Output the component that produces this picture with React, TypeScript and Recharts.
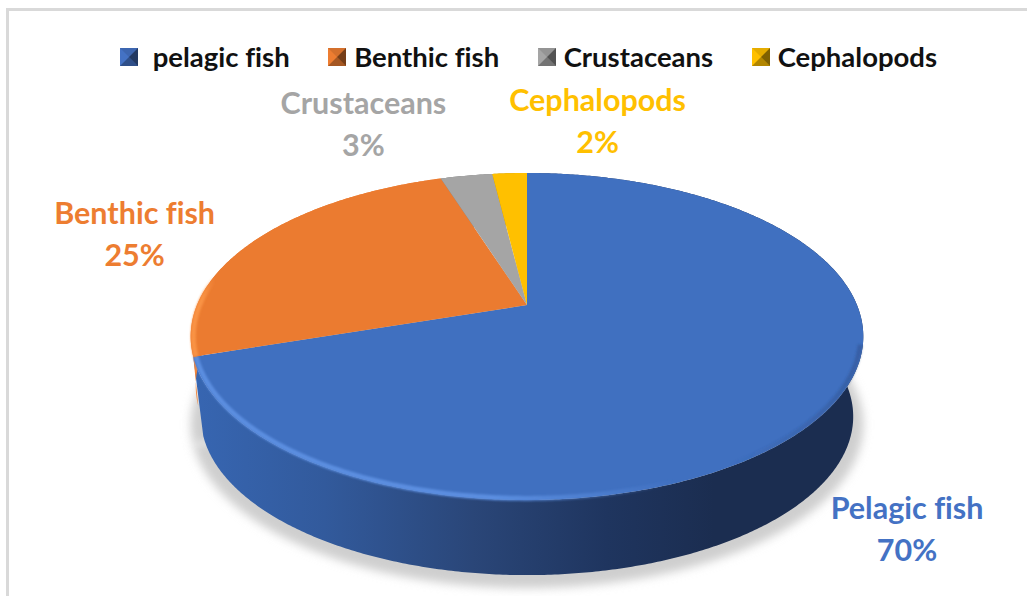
import React from "react";
import { Legend, Pie, PieChart } from "recharts";

// Chart content
const labelNames = ["Pelagic fish", "Benthic fish", "Crustaceans", "Cephalopods"];
const legendNames = [" pelagic fish", "Benthic fish", "Crustaceans", "Cephalopods"];
const shares = [70, 25, 3, 2];
const colors = ["#4472c4", "#ed7d31", "#a5a5a5", "#ffc000"];
const faceFills = ["#4070c0", "#eb7b30", "#a5a5a5", "#ffc000"];
const wallFills = ["url(#wallBlue)", "#f0843a", "#7c7c7c", "#bf9000"];
const wallDrops = [81, 50, 50, 50];
const rimStrokes = ["url(#rimBlue)", "url(#rimOrange)", "none", "none"];
// Distance of each data label from the rim point at the middle of its slice
const labelOffsets = [
  [79, 121],
  [-122, -4],
  [-103, -51],
  [88, -51],
];

const tableData = shares.map((value, i) => ({
  name: legendNames[i],
  value,
  fill: colors[i],
}));

// Tilted-disc projection used for every face of the pie
const TILT = 0.1926;
const SQUASH = 0.477;
const WALL_SCALE = 0.97;
const SHADOW_DROP = 88;
const RIM_FRONT_ANGLE = -14;

type Pt = [number, number];

function project(cx: number, cy: number, r: number, deg: number, scale = 1, drop = 0): Pt {
  const rad = (deg * Math.PI) / 180;
  const u = Math.cos(rad);
  const v = -Math.sin(rad);
  const w = 1 - TILT * v;
  return [cx + (scale * r * u) / w, cy + drop + (scale * r * SQUASH * v) / w];
}

function arc(cx: number, cy: number, r: number, a0: number, a1: number, scale = 1, drop = 0): Pt[] {
  const steps = Math.max(2, Math.ceil(Math.abs(a1 - a0) * 2));
  const out: Pt[] = [];
  for (let i = 0; i <= steps; i++) {
    out.push(project(cx, cy, r, a0 + ((a1 - a0) * i) / steps, scale, drop));
  }
  return out;
}

const toPath = (pts: Pt[], close = true) =>
  pts.map((p, i) => `${i ? "L" : "M"}${p[0].toFixed(2)},${p[1].toFixed(2)}`).join("") + (close ? "Z" : "");

function ShadowSlice(props: any) {
  const { cx, cy, outerRadius, startAngle, endAngle } = props;
  const pts = arc(cx, cy, outerRadius, startAngle, endAngle, 1, SHADOW_DROP);
  const hub = project(cx, cy, outerRadius, 0, 0, SHADOW_DROP);
  return <path d={toPath([hub, ...pts])} fill="#cfcfcf" filter="url(#softShadow)" />;
}

function WallSlice(props: any) {
  const { cx, cy, outerRadius, startAngle, endAngle, index } = props;
  const drop = wallDrops[index];
  const scale = index === 0 ? WALL_SCALE : 0.985;
  const upper = arc(cx, cy, outerRadius, startAngle, endAngle);
  const lower = arc(cx, cy, outerRadius, endAngle, startAngle, scale, drop);
  return <path d={toPath([...upper, ...lower])} fill={wallFills[index]} />;
}

function TopSlice(props: any) {
  const { cx, cy, outerRadius, startAngle, endAngle, index } = props;
  const edge = arc(cx, cy, outerRadius, startAngle, endAngle);
  const rim = arc(cx, cy, outerRadius, Math.min(startAngle, RIM_FRONT_ANGLE), endAngle, 0.992);
  return (
    <g>
      <path d={toPath([[cx, cy], ...edge])} fill={faceFills[index]} />
      {rimStrokes[index] !== "none" && (
        <path
          d={toPath(rim, false)}
          fill="none"
          stroke={rimStrokes[index]}
          strokeWidth={5}
          filter="url(#softRim)"
        />
      )}
    </g>
  );
}

function SliceLabel(props: any) {
  const { cx, cy, outerRadius, midAngle, index, value } = props;
  const [px, py] = project(cx, cy, outerRadius, midAngle);
  const x = px + labelOffsets[index][0];
  const y = py + labelOffsets[index][1];
  return (
    <text
      x={x}
      y={y}
      textAnchor="middle"
      fill={colors[index]}
      style={{ fontFamily: "Lato", fontWeight: 700, fontSize: 30.5, fontVariantLigatures: "none" }}
    >
      <tspan x={x} dy={-11}>
        {labelNames[index]}
      </tspan>
      <tspan x={x} dy={42}>
        {`${value}%`}
      </tspan>
    </text>
  );
}

function BevelSwatch({ color }: { color: string }) {
  return (
    <svg width={18} height={18} style={{ flex: "none" }}>
      <rect width={18} height={18} fill={color} />
      <polygon points="18,0 18,18 9,9" fill="#000" opacity={0.5} />
      <polygon points="0,18 18,18 9,9" fill="#000" opacity={0.3} />
      <polygon points="0,0 18,0 9,9" fill="#000" opacity={0.1} />
    </svg>
  );
}

function LegendRow() {
  return (
    <div
      style={{
        display: "flex",
        gap: 38.5,
        fontFamily: "Lato",
        fontWeight: 700,
        fontSize: 27.5,
        fontVariantLigatures: "none",
        color: "#111",
        lineHeight: "30px",
      }}
    >
      {tableData.map((d) => (
        <div key={d.name} style={{ display: "flex", alignItems: "center", gap: 8, whiteSpace: "pre" }}>
          <BevelSwatch color={d.fill} />
          <span>{d.name}</span>
        </div>
      ))}
    </div>
  );
}

export default function App() {
  const pieProps = {
    data: tableData,
    dataKey: "value",
    nameKey: "name",
    cx: 527,
    cy: 275,
    outerRadius: 330,
    startAngle: 90,
    endAngle: -270,
    isAnimationActive: false,
    stroke: "none",
  };
  return (
    <div style={{ position: "absolute", left: 0, top: 0, width: 1027, height: 596, background: "#fff" }}>
      <div
        style={{
          position: "absolute",
          left: 6,
          top: 8,
          right: 0,
          bottom: 0,
          borderLeft: "3px solid #d9d9d9",
          borderTop: "3px solid #d9d9d9",
        }}
      />
      <PieChart width={1027} height={596} margin={{ top: 0, right: 0, bottom: 0, left: 0 }} style={{ position: "absolute" }}>
        <defs>
          <linearGradient id="wallBlue" gradientUnits="userSpaceOnUse" x1={191} x2={862} y1={0} y2={0}>
            <stop offset="0" stopColor="#3766b2" />
            <stop offset="0.2" stopColor="#325a9c" />
            <stop offset="0.42" stopColor="#2a4678" />
            <stop offset="0.62" stopColor="#1f355f" />
            <stop offset="0.78" stopColor="#1b2d50" />
            <stop offset="1" stopColor="#1b2d50" />
          </linearGradient>
          <linearGradient id="rimBlue" gradientUnits="userSpaceOnUse" x1={195} x2={862} y1={0} y2={0}>
            <stop offset="0" stopColor="#5b8ee0" />
            <stop offset="0.45" stopColor="#5b8ee0" />
            <stop offset="0.72" stopColor="#5b8ee0" stopOpacity={0} />
            <stop offset="0.8" stopColor="#2b4a85" stopOpacity={0} />
            <stop offset="1" stopColor="#2b4a85" stopOpacity={0.45} />
          </linearGradient>
          <linearGradient id="rimOrange" gradientUnits="userSpaceOnUse" x1={190} x2={215} y1={0} y2={0}>
            <stop offset="0" stopColor="#f99344" />
            <stop offset="0.5" stopColor="#f99344" />
            <stop offset="1" stopColor="#f99344" stopOpacity={0} />
          </linearGradient>
          <filter id="softShadow" x="-10%" y="-10%" width="120%" height="120%">
            <feGaussianBlur stdDeviation={5} />
          </filter>
          <filter id="softRim" filterUnits="userSpaceOnUse" x={150} y={100} width={760} height={450}>
            <feGaussianBlur stdDeviation={1.2} />
          </filter>
        </defs>
        <Legend
          verticalAlign="top"
          align="left"
          content={() => <LegendRow />}
          wrapperStyle={{ left: 120, top: 42, width: "auto" }}
        />
        <Pie {...pieProps} shape={ShadowSlice} legendType="none" />
        <Pie {...pieProps} shape={WallSlice} legendType="none" />
        <Pie {...pieProps} shape={TopSlice} label={SliceLabel} labelLine={false} />
      </PieChart>
    </div>
  );
}
